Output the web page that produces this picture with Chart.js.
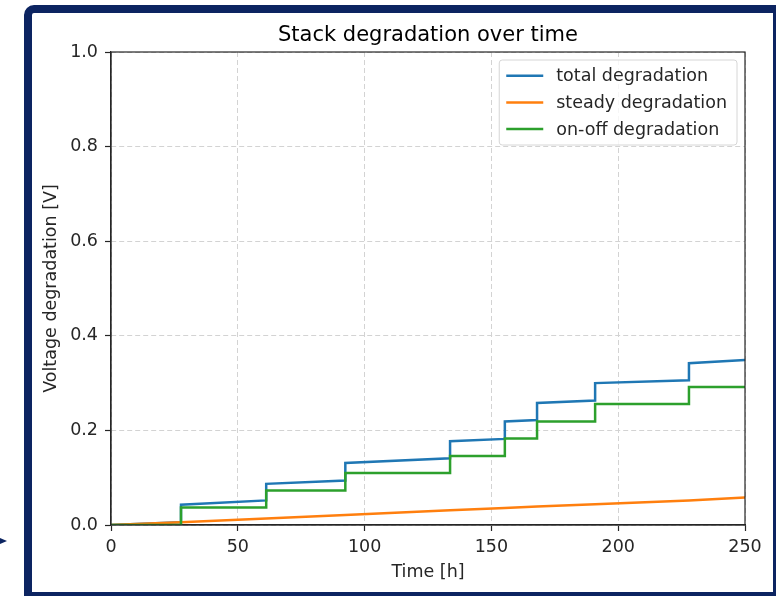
<!DOCTYPE html>
<html>
<head>
<meta charset="utf-8">
<title>Stack degradation over time</title>
<script src="https://cdn.jsdelivr.net/npm/chart.js@4.4.1/dist/chart.umd.min.js"></script>
<style>
  html, body { margin: 0; padding: 0; background: #fff; }
  body { width: 776px; height: 596px; position: relative; overflow: hidden; }
  #frame {
    position: absolute; left: 24px; top: 5px; right: 0; bottom: 0;
    border: solid #0c2461; border-width: 8px 3px 4px 8px;
    border-radius: 10px 0 0 0; box-sizing: border-box;
  }
  #pointer {
    position: absolute; left: 0; top: 538px; width: 0; height: 0;
    border-top: 3.5px solid transparent; border-bottom: 3.5px solid transparent;
    border-left: 7px solid #0c2461;
  }
  #chart { position: absolute; left: 0; top: 0; }
</style>
</head>
<body>
<div id="frame"></div>
<div id="pointer"></div>
<canvas id="chart" width="776" height="596"></canvas>
<script>
// time points (h) - each on-off event appears twice: value before and after the jump
const hours = [0, 27.6, 27.6, 61.2, 61.2, 92.4, 92.4, 133.7, 133.7, 155.3, 155.3, 168.0, 168.0, 190.9, 190.9, 227.9, 227.9, 250];
const totalDeg = [0, 0.006, 0.043, 0.052, 0.087, 0.094, 0.131, 0.141, 0.177, 0.182, 0.219, 0.222, 0.258, 0.263, 0.300, 0.306, 0.342, 0.349];
const steadyDeg = [0, 0.006, 0.006, 0.014, 0.014, 0.021, 0.021, 0.031, 0.031, 0.036, 0.036, 0.039, 0.039, 0.044, 0.044, 0.052, 0.052, 0.058];
const onOffDeg = [0, 0, 0.037, 0.037, 0.073, 0.073, 0.110, 0.110, 0.146, 0.146, 0.183, 0.183, 0.219, 0.219, 0.256, 0.256, 0.292, 0.292];

const seriesLabels = ['total degradation', 'steady degradation', 'on-off degradation'];
const seriesColors = ['#1f77b4', '#ff7f0e', '#2ca02c'];

const xTicks = [0, 50, 100, 150, 200, 250];
const yTicks = [0, 0.2, 0.4, 0.6, 0.8, 1.0];

const FONT = 'DejaVu Sans';
const INK = '#262626';

const toPoints = ys => hours.map((h, i) => ({ x: h, y: ys[i] }));

// frame around the plot area (top/right spines too)
const plotBox = {
  id: 'plotBox',
  afterDatasetsDraw(chart) {
    const { ctx, chartArea: a } = chart;
    ctx.save();
    ctx.strokeStyle = INK;
    ctx.lineWidth = 1.2;
    ctx.strokeRect(a.left, a.top, a.right - a.left, a.bottom - a.top);
    ctx.restore();
  }
};

// legend box in the upper right corner of the axes
const boxLegend = {
  id: 'boxLegend',
  afterDraw(chart) {
    const { ctx, chartArea: a } = chart;
    const sets = chart.data.datasets;
    ctx.save();
    ctx.font = '17.5px "' + FONT + '"';
    const textW = Math.max(...sets.map(d => ctx.measureText(d.label).width));
    const w = 57 + textW + 10;
    const h = 85;
    const x0 = a.right - 8 - w;
    const y0 = a.top + 8;
    ctx.beginPath();
    ctx.roundRect(x0, y0, w, h, 3);
    ctx.fillStyle = 'rgba(255,255,255,0.8)';
    ctx.fill();
    ctx.strokeStyle = '#d6d6d6';
    ctx.lineWidth = 1;
    ctx.stroke();
    ctx.textBaseline = 'middle';
    sets.forEach((d, i) => {
      const y = y0 + 15.7 + i * 26.7;
      ctx.beginPath();
      ctx.moveTo(x0 + 7, y);
      ctx.lineTo(x0 + 44, y);
      ctx.strokeStyle = d.borderColor;
      ctx.lineWidth = 2.5;
      ctx.stroke();
      ctx.fillStyle = INK;
      ctx.fillText(d.label, x0 + 57, y + 1);
    });
    ctx.restore();
  }
};

const datasets = [totalDeg, steadyDeg, onOffDeg].map((ys, i) => ({
  label: seriesLabels[i],
  data: toPoints(ys),
  borderColor: seriesColors[i],
  backgroundColor: seriesColors[i],
  borderWidth: 2.5,
  pointRadius: 0,
  tension: 0,
  order: 3 - i
}));

const tickFont = { family: FONT, size: 17.5 };

new Chart(document.getElementById('chart'), {
  type: 'line',
  data: { datasets: datasets },
  options: {
    responsive: false,
    animation: false,
    layout: { padding: { left: 40.5, right: 31, top: 0, bottom: 0 } },
    plugins: {
      legend: { display: false },
      tooltip: { enabled: false },
      title: {
        display: true,
        text: 'Stack degradation over time',
        fullSize: false,
        color: '#000',
        font: { family: FONT, size: 21, weight: 'normal' },
        padding: { top: 23.4, bottom: 3.4 }
      }
    },
    scales: {
      x: {
        type: 'linear',
        min: 0,
        max: 250,
        afterBuildTicks: s => { s.ticks = xTicks.map(v => ({ value: v })); },
        ticks: { color: INK, font: tickFont, padding: 5.5, maxRotation: 0 },
        grid: { color: '#d3d3d3', lineWidth: 1, tickLength: 6, tickColor: INK, tickWidth: 1.2, tickBorderDash: [] },
        border: { display: true, color: INK, width: 1.2, dash: [5, 3] },
        title: { display: true, text: 'Time [h]', color: INK, font: tickFont, padding: { top: 0, bottom: 13 } },
        afterFit: s => { s.height = 71; }
      },
      y: {
        min: 0,
        max: 1,
        afterBuildTicks: s => { s.ticks = yTicks.map(v => ({ value: v })); },
        ticks: { color: INK, font: tickFont, padding: 7, callback: v => v.toFixed(1) },
        grid: { color: '#d3d3d3', lineWidth: 1, tickLength: 6, tickColor: INK, tickWidth: 1.2, tickBorderDash: [] },
        border: { display: true, color: INK, width: 1.2, dash: [5, 3] },
        title: { display: true, text: 'Voltage degradation [V]', color: INK, font: tickFont, padding: 0 },
        afterFit: s => { s.width = 70.5; }
      }
    }
  },
  plugins: [plotBox, boxLegend]
});
</script>
</body>
</html>
